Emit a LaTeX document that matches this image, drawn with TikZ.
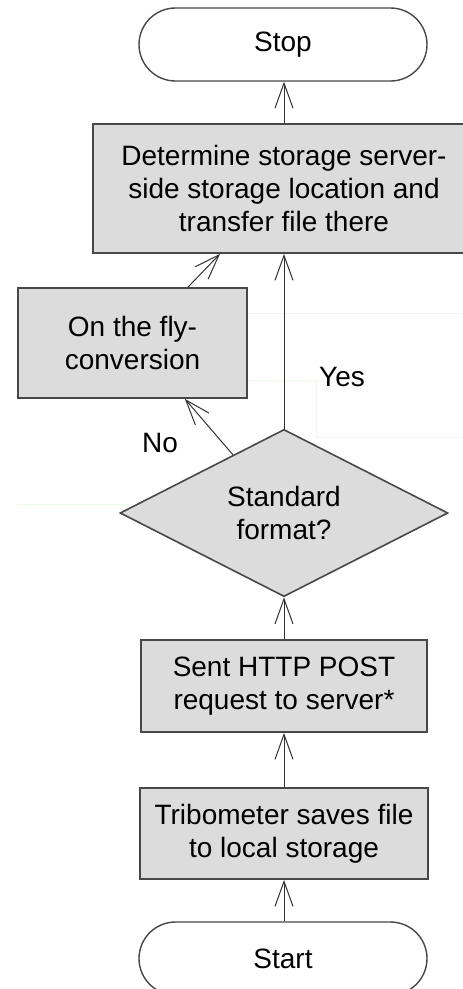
\documentclass[tikz,border=0pt]{standalone}
\usepackage{fontspec}
\setmainfont{Liberation Sans}
\usetikzlibrary{shapes.geometric,shapes.misc,arrows.meta,calc}
\definecolor{boxfill}{RGB}{220,220,220}
\definecolor{boxline}{RGB}{72,72,72}
\definecolor{arrowline}{RGB}{50,50,50}
\definecolor{faintgrid}{RGB}{236,251,236}
\begin{document}
\begin{tikzpicture}[x=1pt,y=-1pt,
  every node/.style={font=\fontsize{28}{33}\selectfont, text=black, align=center, inner sep=0pt},
  terminal/.style={rounded rectangle, draw=boxline, line width=1.4pt, fill=white,
    minimum width=288pt, minimum height=73pt},
  stepbox/.style={rectangle, draw=boxline, line width=1.8pt, fill=boxfill},
  decision/.style={diamond, draw=boxline, line width=1.6pt, fill=boxfill,
    minimum width=328pt, minimum height=160pt},
  flow/.style={draw=arrowline, line width=1pt, -{Straight Barb[length=25pt,width=18pt,line width=1pt]}},
  faint/.style={draw=faintgrid, line width=1pt}
]
\useasboundingbox (0,0) rectangle (463,989);
\fill[white] (0,0) rectangle (463,989);

% faint guide lines in the background
\draw[faint] (247,313) -- (463,313);
\draw[faint] (247,380) -- (316,380) -- (316,437) -- (463,437);
\draw[faint] (17,504) -- (130,504);

% nodes
\node[terminal] (stop) at (283,44.5) {Stop};
\node[stepbox, minimum width=382pt, minimum height=129pt] (det) at (284,188.5)
  {Determine storage server-\\side storage location and\\transfer file there};
\node[stepbox, minimum width=229pt, minimum height=110pt] (fly) at (132.5,343)
  {On the fly-\\conversion};
\node[decision] (dia) at (284,513) {Standard\\format?};
\node[stepbox, minimum width=286pt, minimum height=92pt] (sent) at (284,686)
  {Sent HTTP POST\\request to server*};
\node[stepbox, minimum width=288pt, minimum height=91pt] (tri) at (284,833.5)
  {Tribometer saves file\\to local storage};
\node[terminal] (start) at (283,958.5) {Start};

% labels
\node (nolbl) at (160,443) {No};
\node (yeslbl) at (342,377) {Yes};

% connectors
\draw[flow] (start.north -| tri.south) -- (tri.south);
\draw[flow] (tri.north) -- (sent.south);
\draw[flow] (sent.north) -- (dia.south);
\draw[flow] (dia.north) -- (dia.north |- det.south);
\draw[flow] (det.north) -- (det.north |- stop.south);
\coordinate (nostart) at ($(dia.north)!0.31!(dia.west)$);
\coordinate (noend) at ($(fly.south east)+(-63,0)$);
\draw[flow] (nostart) -- (noend);
\coordinate (flytop) at ($(fly.north)+(55.5,0)$);
\coordinate (detbot) at ($(det.south)+(-64,0)$);
\draw[flow] (flytop) -- (detbot);
\end{tikzpicture}
\end{document}
